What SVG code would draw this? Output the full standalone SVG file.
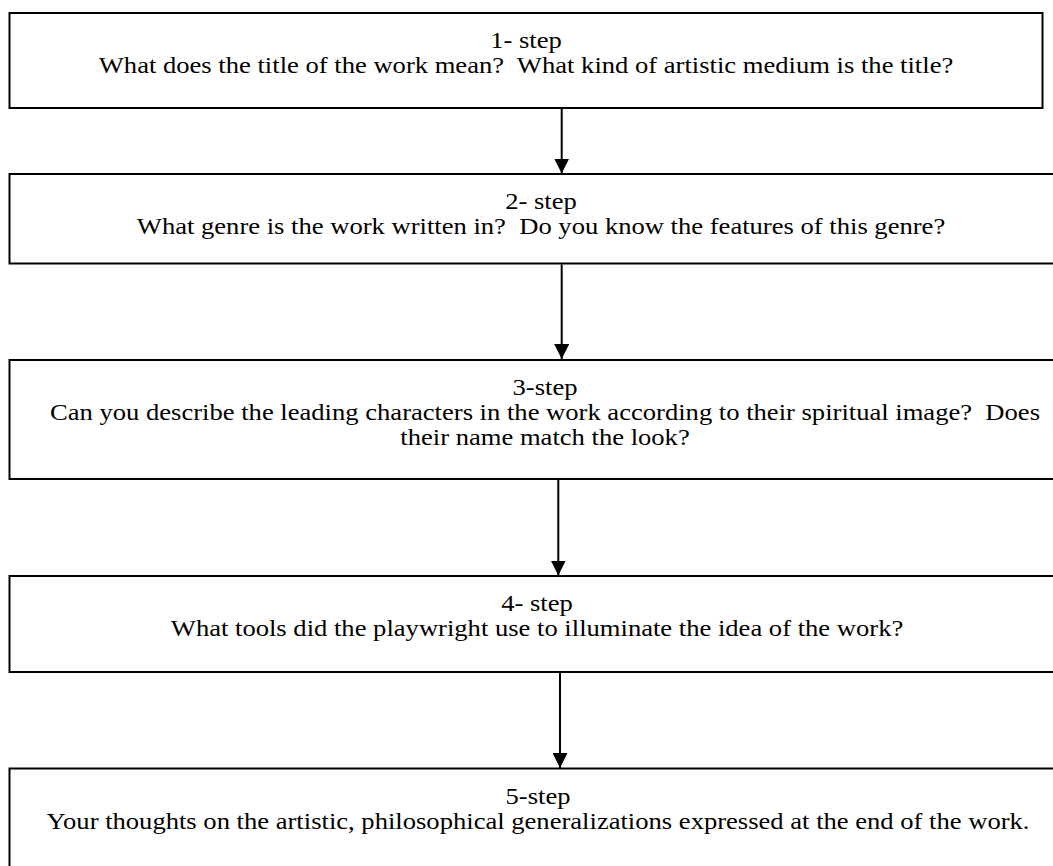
<svg xmlns="http://www.w3.org/2000/svg" width="1053" height="866" viewBox="0 0 1053 866">
<defs>
<style>
.box{fill:#fff;stroke:#000;stroke-width:2}
.t{font-family:"Liberation Serif","Times New Roman",serif;font-size:22.5px;fill:#000;text-anchor:middle}
.c{stroke:#000;stroke-width:2;fill:none}
</style>
<marker id="ah" markerWidth="15" markerHeight="15" viewBox="0 0 15 15" refX="15" refY="7.5" orient="auto" markerUnits="userSpaceOnUse">
<path d="M0,0 L15,7.5 L0,15 Z" fill="#000"/>
</marker>
</defs>
<rect width="1053" height="866" fill="#fff"/>
<g id="connectors">
<line class="c" x1="561.7" y1="109" x2="561.7" y2="173.5" marker-end="url(#ah)"/>
<line class="c" x1="561.7" y1="264.5" x2="561.7" y2="359" marker-end="url(#ah)"/>
<line class="c" x1="558.3" y1="480" x2="558.3" y2="575.5" marker-end="url(#ah)"/>
<line class="c" x1="560" y1="673" x2="560" y2="768" marker-end="url(#ah)"/>
</g>
<g id="step1">
<rect class="box" x="9.5" y="13" width="1033" height="95"/>
<text class="t" transform="translate(526,48) scale(1.182,1)">1- step</text>
<text class="t" transform="translate(526,73) scale(1.182,1)" xml:space="preserve">What does the title of the work mean?  What kind of artistic medium is the title?</text>
</g>
<g id="step2">
<rect class="box" x="9.5" y="174" width="1080" height="89.5"/>
<text class="t" transform="translate(541,209) scale(1.182,1)">2- step</text>
<text class="t" transform="translate(541,234) scale(1.182,1)" xml:space="preserve">What genre is the work written in?  Do you know the features of this genre?</text>
</g>
<g id="step3">
<rect class="box" x="9.5" y="360" width="1080" height="119"/>
<text class="t" transform="translate(545,395) scale(1.182,1)">3-step</text>
<text class="t" transform="translate(545,420) scale(1.182,1)" xml:space="preserve">Can you describe the leading characters in the work according to their spiritual image?  Does</text>
<text class="t" transform="translate(545,445) scale(1.182,1)">their name match the look?</text>
</g>
<g id="step4">
<rect class="box" x="9.5" y="576" width="1080" height="96"/>
<text class="t" transform="translate(537,611) scale(1.182,1)">4- step</text>
<text class="t" transform="translate(537,636) scale(1.182,1)">What tools did the playwright use to illuminate the idea of the work?</text>
</g>
<g id="step5">
<rect class="box" x="9.5" y="768.5" width="1080" height="120"/>
<text class="t" transform="translate(538,803.5) scale(1.182,1)">5-step</text>
<text class="t" transform="translate(538,828.5) scale(1.182,1)">Your thoughts on the artistic, philosophical generalizations expressed at the end of the work.</text>
</g>
</svg>
